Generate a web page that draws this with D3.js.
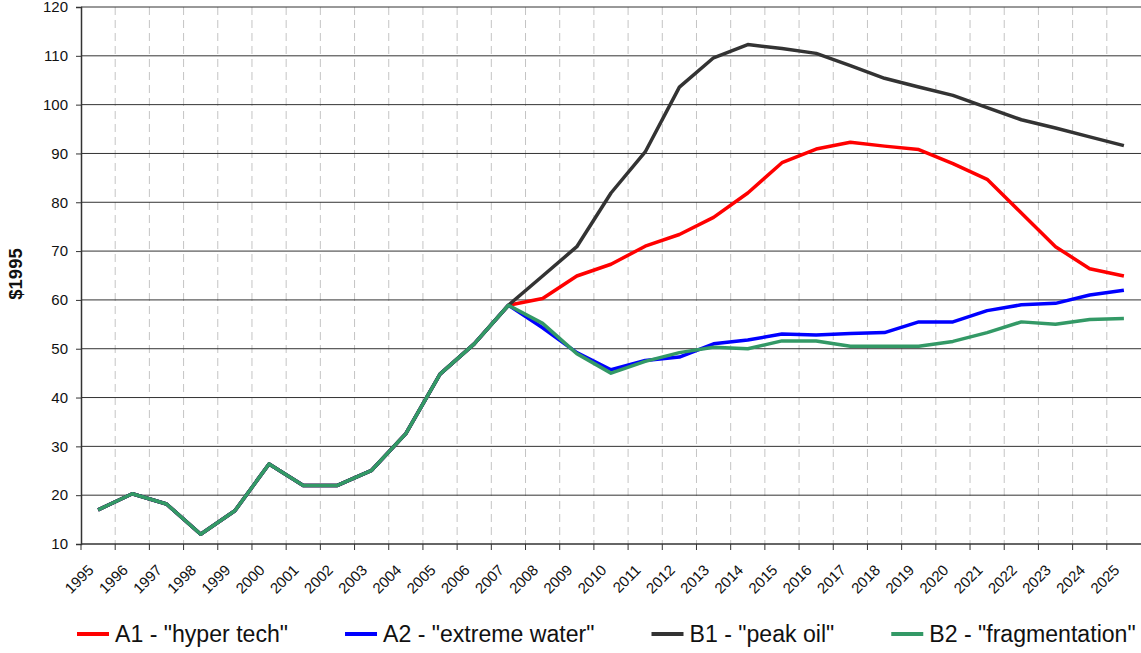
<!DOCTYPE html>
<html>
<head>
<meta charset="utf-8">
<script src="https://cdn.jsdelivr.net/npm/d3@7/dist/d3.min.js"></script>
<style>
  html, body { margin: 0; padding: 0; background: #fff; }
  svg { display: block; font-family: "Liberation Sans", Arial, sans-serif; }
</style>
</head>
<body>
<svg id="chart" width="1141" height="653"></svg>
<script>
// Oil price scenarios, constant 1995 dollars
const years = ["1995","1996","1997","1998","1999","2000","2001","2002","2003","2004",
  "2005","2006","2007","2008","2009","2010","2011","2012","2013","2014","2015",
  "2016","2017","2018","2019","2020","2021","2022","2023","2024","2025"];

const a1HyperTech = [17.0,20.3,18.2,12.0,16.8,26.4,22.0,22.0,25.1,32.6,44.8,51.0,58.9,
  60.3,64.9,67.3,71.0,73.4,76.9,81.9,88.1,90.9,92.3,91.5,90.8,87.9,84.7,77.8,70.9,66.4,64.9];
const a2ExtremeWater = [17.0,20.3,18.2,12.0,16.8,26.4,22.0,22.0,25.1,32.6,44.8,51.0,58.9,
  54.3,49.2,45.7,47.6,48.3,51.0,51.8,53.0,52.8,53.1,53.3,55.5,55.5,57.8,59.0,59.3,61.0,62.0];
const b1PeakOil = [17.0,20.3,18.2,12.0,16.8,26.4,22.0,22.0,25.1,32.6,44.8,51.0,58.9,
  64.9,70.9,81.9,90.3,103.6,109.6,112.3,111.5,110.5,108.0,105.4,103.6,101.9,99.4,96.9,95.2,93.4,91.6];
const b2Fragmentation = [17.0,20.3,18.2,12.0,16.8,26.4,22.0,22.0,25.1,32.6,44.8,51.0,58.9,
  55.2,49.0,45.0,47.4,49.2,50.3,50.0,51.6,51.6,50.5,50.5,50.5,51.5,53.3,55.5,55.0,56.0,56.2];

const seriesNames = ['A1 - "hyper tech"', 'A2 - "extreme water"', 'B1 - "peak oil"', 'B2 - "fragmentation"'];
const seriesColors = ["#ff0000", "#0000ff", "#333333", "#339966"];
const yTicks = [10,20,30,40,50,60,70,80,90,100,110,120];
const yTitle = "$1995";

(function draw() {
  const series = [a1HyperTech, a2ExtremeWater, b1PeakOil, b2Fragmentation].map((vals, i) => ({
    name: seriesNames[i], color: seriesColors[i], values: vals
  }));

  const svg = d3.select("#chart");
  const plotLeft = 81, plotRight = 1141, plotTop = 7, plotBottom = 544;

  const x = d3.scaleBand().domain(years).range([plotLeft, plotRight]).padding(0);
  const y = d3.scaleLinear().domain([10, 120]).range([plotBottom, plotTop]);
  const cx = d => x(d) + x.bandwidth() / 2;

  // vertical dashed gridlines at category boundaries
  const boundaries = years.slice(1).map(d => x(d));
  svg.append("g").selectAll("line").data(boundaries).join("line")
    .attr("x1", d => d).attr("x2", d => d)
    .attr("y1", plotTop).attr("y2", plotBottom)
    .attr("stroke", "#c4c4c4").attr("stroke-width", 1)
    .attr("stroke-dasharray", "8,5");

  // horizontal gridlines
  svg.append("g").selectAll("line").data(yTicks.slice(1)).join("line")
    .attr("x1", plotLeft).attr("x2", plotRight)
    .attr("y1", d => y(d)).attr("y2", d => y(d))
    .attr("stroke", "#333").attr("stroke-width", 1);

  // y axis
  const yAxis = svg.append("g").attr("transform", `translate(${plotLeft},0)`)
    .call(d3.axisLeft(y).tickValues(yTicks).tickSize(5).tickPadding(8).tickFormat(d3.format("d")));
  yAxis.select(".domain").attr("stroke", "#333").attr("stroke-width", 1.5);
  yAxis.selectAll(".tick line").attr("stroke", "#333");
  yAxis.selectAll("text").attr("font-size", "15px").attr("fill", "#111")
    .attr("font-family", "'Liberation Sans', Arial, sans-serif");

  // x axis: ticks on category boundaries, rotated labels at category centres
  const xAxisG = svg.append("g");
  xAxisG.append("line").attr("x1", plotLeft).attr("x2", plotRight)
    .attr("y1", plotBottom).attr("y2", plotBottom)
    .attr("stroke", "#333").attr("stroke-width", 1.5);
  xAxisG.selectAll("line.tk").data([plotLeft].concat(boundaries)).join("line").attr("class", "tk")
    .attr("x1", d => d).attr("x2", d => d).attr("y1", plotBottom).attr("y2", plotBottom + 6)
    .attr("stroke", "#333");
  xAxisG.selectAll("text").data(years).join("text")
    .attr("transform", d => `translate(${cx(d) - 3.5},571) rotate(-45)`)
    .attr("text-anchor", "end")
    .attr("font-size", "15px").attr("fill", "#111")
    .text(d => d);

  // y axis title
  svg.append("text")
    .attr("transform", "translate(22,274) rotate(-90)")
    .attr("text-anchor", "middle")
    .attr("font-size", "18.5px").attr("font-weight", "bold").attr("fill", "#111")
    .text(yTitle);

  // series lines
  const line = d3.line().x((v, i) => cx(years[i])).y(v => y(v));
  svg.append("g").selectAll("path").data(series).join("path")
    .attr("d", s => line(s.values))
    .attr("fill", "none")
    .attr("stroke", s => s.color)
    .attr("stroke-width", 3.5)
    .attr("stroke-linejoin", "round");

  // legend, laid out left to right
  const legend = svg.append("g");
  let lx = 77;
  const ly = 634;
  series.forEach(s => {
    legend.append("line").attr("x1", lx).attr("x2", lx + 32).attr("y1", ly).attr("y2", ly)
      .attr("stroke", s.color).attr("stroke-width", 4);
    const t = legend.append("text").attr("x", lx + 38).attr("y", ly + 8)
      .attr("font-size", "23.1px").attr("fill", "#111").text(s.name);
    lx += 38 + t.node().getComputedTextLength() + 57;
  });
})();
</script>
</body>
</html>
